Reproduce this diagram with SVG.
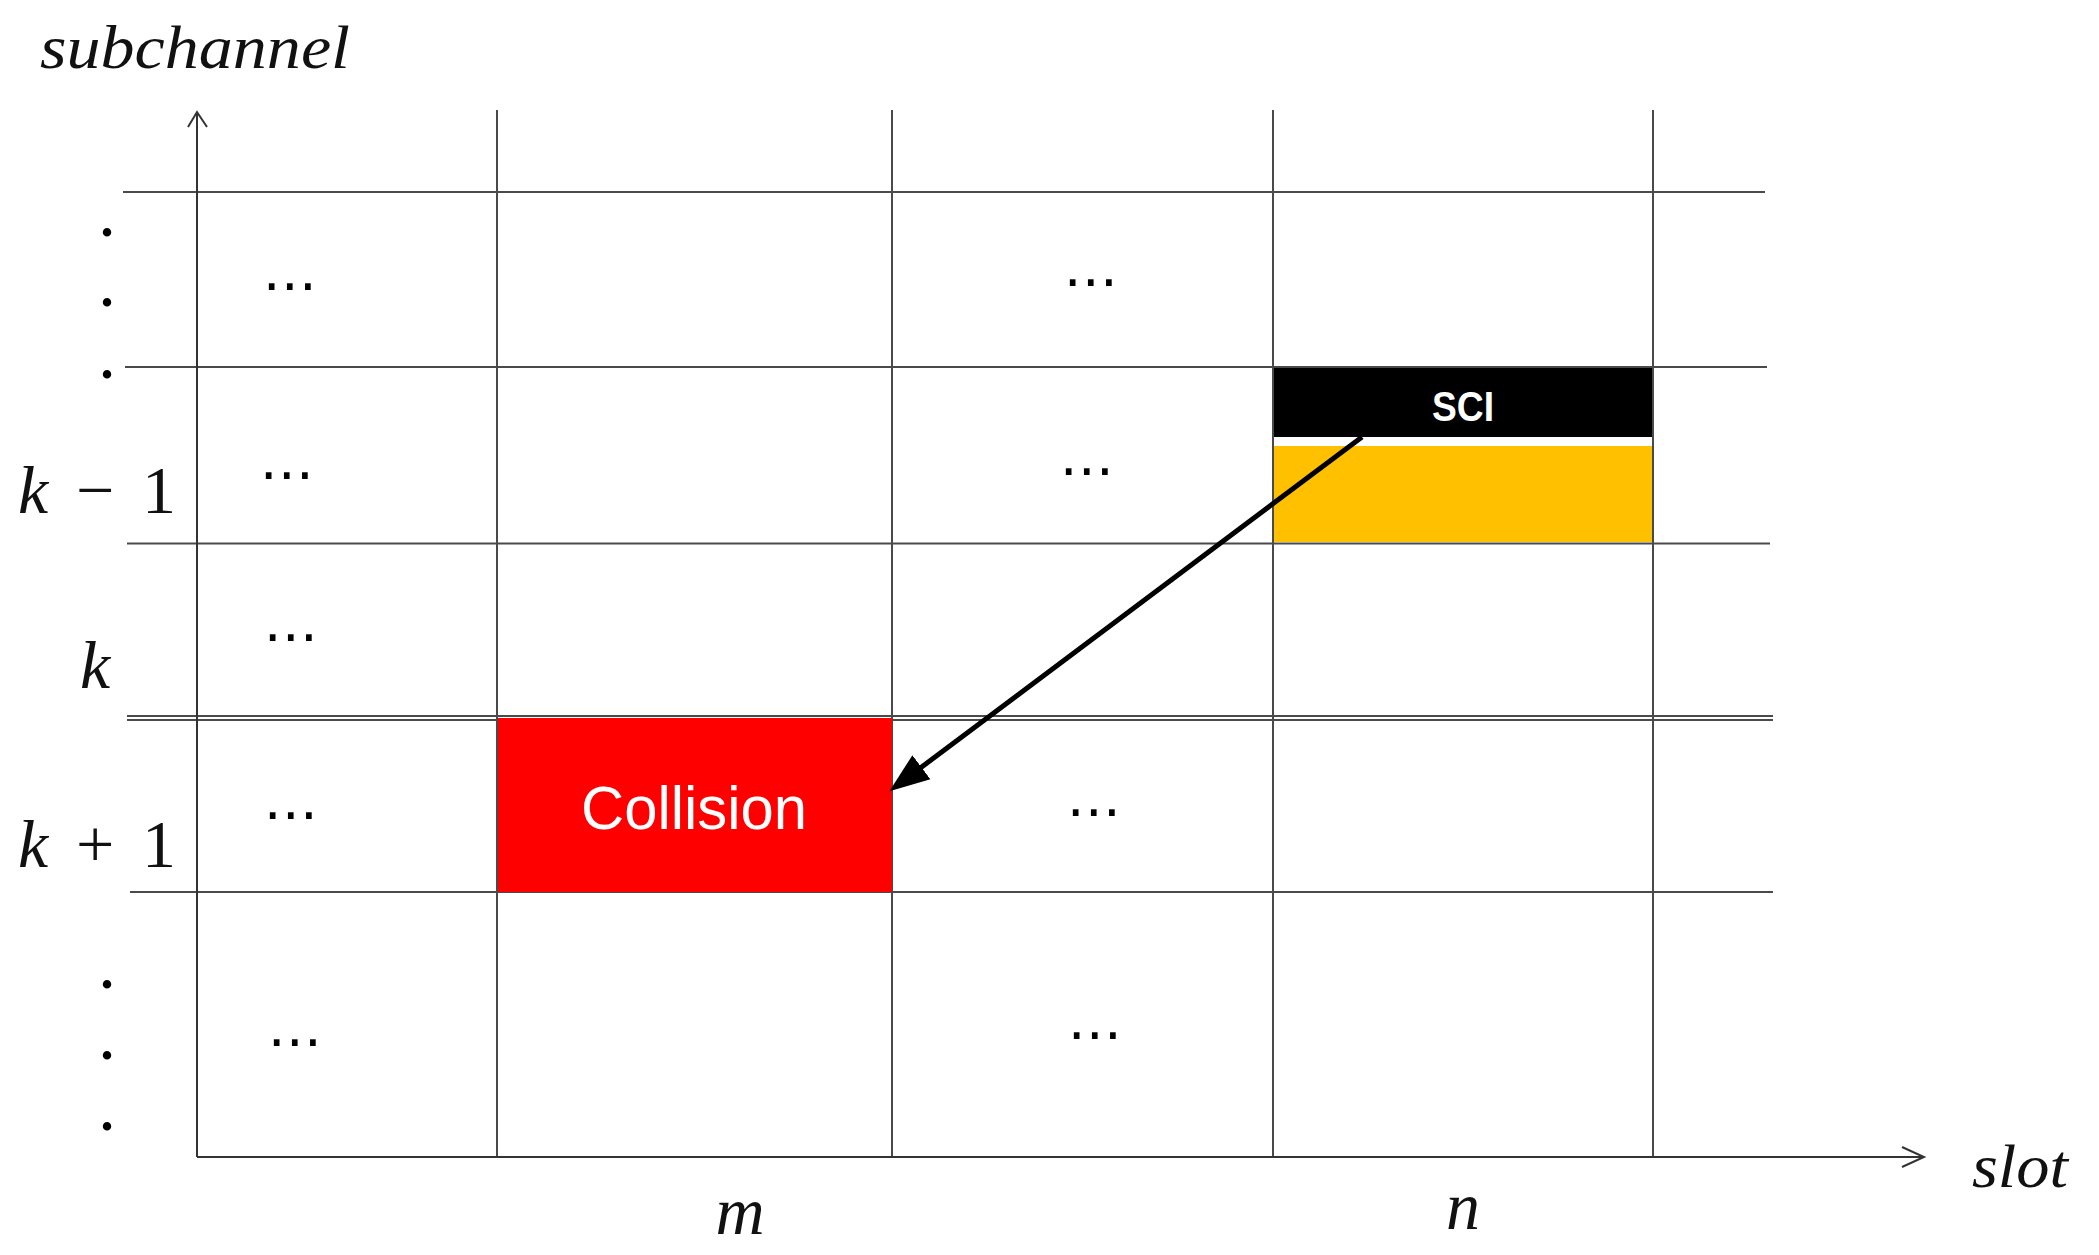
<svg xmlns="http://www.w3.org/2000/svg" width="2099" height="1255" viewBox="0 0 2099 1255">
<style>
.grid{stroke:#4a4a4a;stroke-width:2;fill:none}
.axis{stroke:#333;stroke-width:2;fill:none}
.lbl{font-family:"Liberation Serif",serif;font-style:italic;fill:#111}
.math{font-family:"Liberation Serif",serif;fill:#111;font-size:68px}
.ell{font-family:"DejaVu Sans",sans-serif;font-size:55px;fill:#000;text-anchor:middle}
.vdot{font-family:"Liberation Serif",serif;font-size:52px;font-weight:bold;fill:#000;text-anchor:middle}
</style>
<defs>
<marker id="head" markerUnits="userSpaceOnUse" markerWidth="42" markerHeight="34" refX="8" refY="16" orient="auto">
<path d="M0,1 L40,16 L0,31 z" fill="#000"/>
</marker>
</defs>
<rect width="2099" height="1255" fill="#fff"/>
<g id="grid">
<line class="grid" x1="123" y1="192" x2="1765" y2="192"/>
<line class="grid" x1="125" y1="367" x2="1767" y2="367"/>
<line class="grid" x1="127" y1="543.5" x2="1770" y2="543.5"/>
<line class="grid" x1="127" y1="716" x2="1773" y2="716"/>
<line class="grid" x1="127" y1="720" x2="1773" y2="720"/>
<line class="grid" x1="130" y1="892" x2="1773" y2="892"/>
<line class="grid" x1="497" y1="110" x2="497" y2="1157"/>
<line class="grid" x1="892" y1="110" x2="892" y2="1157"/>
<line class="grid" x1="1273" y1="110" x2="1273" y2="1157"/>
<line class="grid" x1="1653" y1="110" x2="1653" y2="1157"/>
</g>
<g id="axes">
<line class="axis" x1="197" y1="1157" x2="197" y2="112"/>
<polyline class="axis" points="188,127 197,112 207,127"/>
<line class="axis" x1="197" y1="1157" x2="1924" y2="1157"/>
<polyline class="axis" points="1902,1147 1924,1157 1902,1167"/>
</g>
<g id="sci">
<rect x="1274" y="368" width="378" height="69" fill="#000"/>
<text x="1463" y="421" font-family="Liberation Sans,Arial,sans-serif" font-weight="bold" font-size="43" fill="#fff" text-anchor="middle" textLength="62" lengthAdjust="spacingAndGlyphs">SCI</text>
</g>
<g id="data">
<rect x="1274" y="446" width="378" height="96" fill="#FFC000"/>
</g>
<g id="collision">
<rect x="498" y="718" width="394" height="174" fill="#FF0000"/>
<text x="694" y="829" font-family="Liberation Sans,Arial,sans-serif" font-size="62" fill="#fff" text-anchor="middle" textLength="226" lengthAdjust="spacingAndGlyphs">Collision</text>
</g>
<g id="connectors">
<line x1="1362" y1="437" x2="915" y2="772" stroke="#000" stroke-width="5" marker-end="url(#head)"/>
</g>
<g id="labels">
<text class="lbl" x="40" y="68" font-size="62" textLength="310" lengthAdjust="spacingAndGlyphs">subchannel</text>
<text class="lbl" x="1972" y="1187" font-size="62" textLength="96" lengthAdjust="spacingAndGlyphs">slot</text>
<text class="math" y="513"><tspan x="18" font-style="italic">k</tspan><tspan x="76">−</tspan><tspan x="142">1</tspan></text>
<text class="math" x="80" y="688" font-style="italic">k</text>
<text class="math" y="867"><tspan x="18" font-style="italic">k</tspan><tspan x="76">+</tspan><tspan x="142">1</tspan></text>
<text class="math" x="740" y="1234" font-style="italic" text-anchor="middle">m</text>
<text class="math" x="1463" y="1229" font-style="italic" text-anchor="middle">n</text>
</g>
<g id="dots">
<text class="vdot" x="107" y="236">.</text>
<text class="vdot" x="107" y="306">.</text>
<text class="vdot" x="107" y="378">.</text>
<text class="vdot" x="107" y="988">.</text>
<text class="vdot" x="107" y="1059">.</text>
<text class="vdot" x="107" y="1130">.</text>
<text class="ell" x="290" y="304">⋯</text>
<text class="ell" x="1091" y="300">⋯</text>
<text class="ell" x="287" y="493">⋯</text>
<text class="ell" x="1087" y="489">⋯</text>
<text class="ell" x="291" y="655">⋯</text>
<text class="ell" x="291" y="833">⋯</text>
<text class="ell" x="1094" y="830">⋯</text>
<text class="ell" x="295" y="1060">⋯</text>
<text class="ell" x="1095" y="1053">⋯</text>
</g>
</svg>
